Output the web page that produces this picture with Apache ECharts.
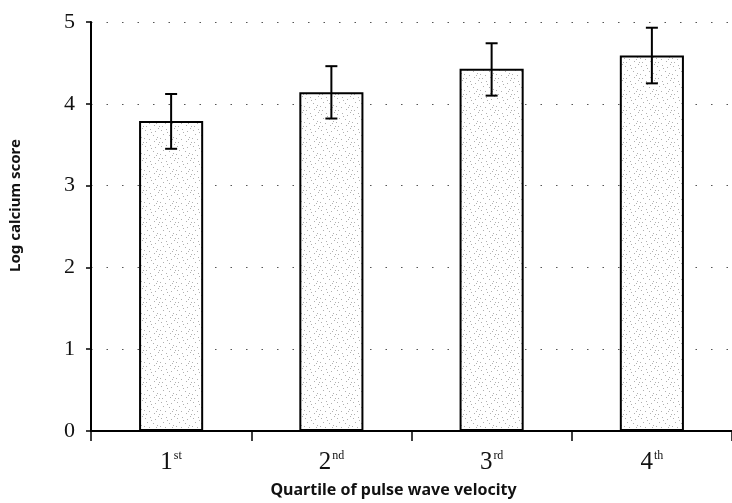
<!DOCTYPE html>
<html>
<head>
<meta charset="utf-8">
<script src="https://cdn.jsdelivr.net/npm/echarts@6/dist/echarts.min.js"></script>
<style>
  html, body { margin: 0; padding: 0; background: #fff; }
  #chart { width: 732px; height: 503px; }
</style>
</head>
<body>
<div id="chart"></div>
<script>
// quartiles of pulse wave velocity
var quartiles = ['1', '2', '3', '4'];
var suffixes = ['st', 'nd', 'rd', 'th'];
var meanScore = [3.79, 4.14, 4.43, 4.59];
var errUpper = [4.12, 4.46, 4.74, 4.93];
var errLower = [3.45, 3.82, 4.10, 4.25];
var yTicks = [0, 1, 2, 3, 4, 5];

// stipple texture for the bars (fixed dot layout)
function makeStipple() {
    var c = document.createElement('canvas');
    c.width = 16; c.height = 16;
    var ctx = c.getContext('2d');
    ctx.fillStyle = '#ffffff';
    ctx.fillRect(0, 0, 16, 16);
    var dots = [[1,2],[6,1],[11,3],[14,0],[3,6],[9,7],[13,9],[0,10],[5,11],[10,13],[15,14],[2,14],[7,4],[12,11]];
    ctx.fillStyle = 'rgba(80,80,80,0.45)';
    dots.forEach(function(d){ ctx.fillRect(d[0], d[1], 1, 1); });
    return c;
}

var chart = echarts.init(document.getElementById('chart'));

var errData = quartiles.map(function(q, i){ return [i, errLower[i], errUpper[i]]; });

var option = {
    animation: false,
    grid: { left: 89, top: 22, width: 648, height: 413 },
    xAxis: {
        type: 'category',
        data: quartiles,
        name: 'Quartile of pulse wave velocity',
        nameLocation: 'middle',
        nameGap: 51,
        nameTextStyle: {
            fontFamily: 'Noto Sans', fontSize: 16, fontWeight: 'bold', color: '#111',
            verticalAlign: 'top', padding: [0, 36, 0, 0]
        },
        axisLine: { lineStyle: { color: '#000', width: 2 } },
        axisTick: { show: true, inside: false, length: 10, lineStyle: { color: '#000', width: 1.5 } },
        axisLabel: {
            margin: 18,
            formatter: function(v, i){ return '{n|' + v + '}{s|' + suffixes[i] + '}'; },
            rich: {
                n: { fontFamily: 'Liberation Serif', fontSize: 25, color: '#111', lineHeight: 26 },
                s: { fontFamily: 'Liberation Serif', fontSize: 12, color: '#111', lineHeight: 12, padding: [0, 0, 13, 1] }
            }
        }
    },
    yAxis: {
        type: 'value',
        min: 0, max: 5, interval: 1,
        name: 'Log calcium score',
        nameLocation: 'middle',
        nameGap: 68,
        nameTextStyle: {
            fontFamily: 'Noto Sans', fontSize: 15, fontWeight: 'bold', color: '#111',
            padding: [0, 0, 0, 42]
        },
        axisLine: { show: true, lineStyle: { color: '#000', width: 2 } },
        axisTick: { show: true, inside: false, length: 5, lineStyle: { color: '#000', width: 1.5 } },
        axisLabel: {
            margin: 16,
            fontFamily: 'Liberation Serif', fontSize: 22, color: '#111',
            formatter: function(v){ return yTicks.indexOf(v) >= 0 ? String(v) : ''; }
        },
        splitLine: { show: true, lineStyle: { color: '#555', width: 1.2, type: [1.5, 14] } }
    },
    series: [
        {
            type: 'bar',
            data: meanScore,
            barWidth: '40%',
            itemStyle: {
                color: { image: makeStipple(), repeat: 'repeat' },
                borderColor: '#000',
                borderWidth: 2
            }
        },
        {
            type: 'custom',
            data: errData,
            z: 5,
            renderItem: function(params, api){
                var x = api.value(0);
                var lo = api.coord([x, api.value(1)]);
                var hi = api.coord([x, api.value(2)]);
                var half = 6;
                var st = { stroke: '#000', lineWidth: 2 };
                return {
                    type: 'group',
                    children: [
                        { type: 'line', shape: { x1: lo[0], y1: lo[1], x2: hi[0], y2: hi[1] }, style: st },
                        { type: 'line', shape: { x1: hi[0] - half, y1: hi[1], x2: hi[0] + half, y2: hi[1] }, style: st },
                        { type: 'line', shape: { x1: lo[0] - half, y1: lo[1], x2: lo[0] + half, y2: lo[1] }, style: st }
                    ]
                };
            }
        }
    ]
};

chart.setOption(option);
</script>
</body>
</html>
